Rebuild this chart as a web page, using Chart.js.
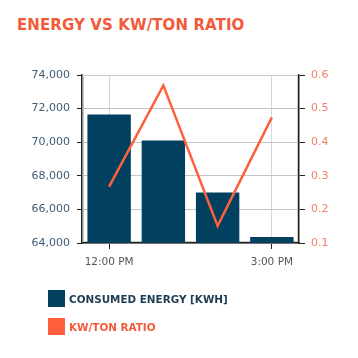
<!DOCTYPE html>
<html><head><meta charset="utf-8">
<script src="https://cdn.jsdelivr.net/npm/chart.js@4"></script>
<style>
html,body{margin:0;padding:0;background:#fff;width:358px;height:358px;overflow:hidden;font-family:"DejaVu Sans",sans-serif;}
#wrap{position:relative;width:358px;height:358px;}
#title{position:absolute;left:17px;top:16px;font-size:15px;font-weight:bold;color:#f25a3a;letter-spacing:0.1px;white-space:nowrap;}
canvas{position:absolute;left:0;top:0;}
#legend{position:absolute;left:48px;top:290px;}
.li{display:flex;align-items:center;height:17px;margin-bottom:11px;font-size:10.4px;font-weight:bold;white-space:nowrap;}
.box{width:17px;height:17px;margin-right:4px;}
</style></head>
<body><div id="wrap">
<div id="title">ENERGY VS KW/TON RATIO</div>
<canvas id="c" width="358" height="358"></canvas>
<div id="legend"></div>
</div>
<script>
const categories = ["12:00 PM","1:00 PM","2:00 PM","3:00 PM"];
const energyValues = [71650, 70100, 67000, 64350];
const ratioValues = [0.268, 0.569, 0.151, 0.474];
const shownLabels = ["12:00 PM","3:00 PM"];
const energyName = "CONSUMED ENERGY [KWH]";
const ratioName = "KW/TON RATIO";

const barColor = "#02405f";
const lineColor = "#ff5f3d";

const frame = {
  id: 'frame',
  beforeDatasetsDraw(chart) {
    const a = chart.chartArea, ctx = chart.ctx;
    ctx.save();
    ctx.strokeStyle = '#c8c8c8'; ctx.lineWidth = 1;
    ctx.strokeRect(a.left + 1.5, a.top + 0.5, a.right - a.left - 3, a.bottom - a.top - 2);
    ctx.restore();
  }
};

const chart = new Chart(document.getElementById('c'), {
  data: {
    labels: categories,
    datasets: [
      {type:'line', label: ratioName, data: ratioValues, yAxisID:'y1', borderColor: lineColor, backgroundColor: lineColor, borderWidth: 2.5, pointRadius: 0, tension: 0, order: 0},
      {type:'bar', label: energyName, data: energyValues, yAxisID:'y', backgroundColor: barColor, barPercentage: 1, categoryPercentage: 0.8, order: 1}
    ]
  },
  options: {
    responsive: false,
    animation: false,
    layout: {padding: {top: 75, left: 0, right: 0, bottom: 0}},
    plugins: {legend: {display: false}, title: {display: false}, tooltip: {enabled: false}},
    scales: {
      x: {
        offset: true,
        grid: {offset: false, tickLength: 6, color: (c) => shownLabels.includes(categories[c.index]) ? '#d6d6d6' : 'rgba(0,0,0,0)', tickColor: (c) => shownLabels.includes(categories[c.index]) ? '#222' : 'rgba(0,0,0,0)'},
        border: {color: '#222', width: 1.5},
        ticks: {autoSkip: false, maxRotation: 0, padding: 7, color: '#555', font: {family: 'DejaVu Sans', size: 10.5},
          callback: function(v, i){ const l = categories[i]; return shownLabels.includes(l) ? l : ''; }},
        afterFit: (s) => { s.height = 115; }
      },
      y: {
        position: 'left', min: 64000, max: 74000,
        ticks: {stepSize: 2000, padding: 7, color: '#3f5b74', font: {family: 'DejaVu Sans', size: 11},
          callback: (v) => v.toLocaleString('en-US')},
        grid: {color: '#c4c4c4', tickLength: 5, tickColor: '#222'},
        border: {color: '#222', width: 1.5},
        afterFit: (s) => { s.width = 82; }
      },
      y1: {
        position: 'right', min: 0.1, max: 0.6,
        ticks: {stepSize: 0.1, padding: 6, color: '#f4806a', font: {family: 'DejaVu Sans', size: 11},
          callback: (v) => Number(v.toFixed(1)).toString()},
        grid: {drawOnChartArea: false, tickLength: 6, tickColor: '#222'},
        border: {color: '#222', width: 1.5},
        afterFit: (s) => { s.width = 59; }
      }
    }
  },
  plugins: [frame]
});

const legend = document.getElementById('legend');
[{name: energyName, color: barColor, text: '#1d3d55'}, {name: ratioName, color: lineColor, text: '#f25a3a'}].forEach(it => {
  const d = document.createElement('div'); d.className = 'li';
  const b = document.createElement('div'); b.className = 'box'; b.style.background = it.color;
  const t = document.createElement('span'); t.textContent = it.name; t.style.color = it.text;
  d.appendChild(b); d.appendChild(t); legend.appendChild(d);
});
</script>
</body></html>
